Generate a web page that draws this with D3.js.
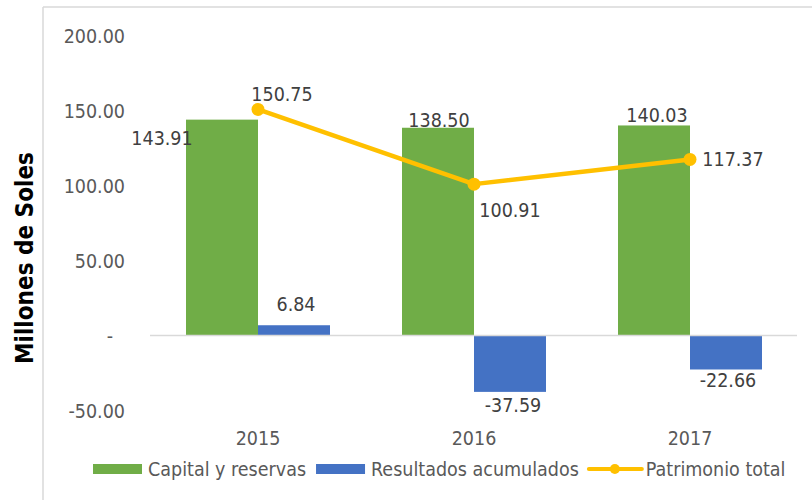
<!DOCTYPE html>
<html>
<head>
<meta charset="utf-8">
<script src="https://cdn.jsdelivr.net/npm/d3@7"></script>
<style>
  body { margin: 0; background: #fff; }
  text { font-family: "DejaVu Sans Condensed", "DejaVu Sans", sans-serif; font-stretch: condensed; }
</style>
</head>
<body>
<script>
// data
var years = ["2015", "2016", "2017"];
var capital = [143.91, 138.50, 140.03];
var resultados = [6.84, -37.59, -22.66];
var patrimonio = [150.75, 100.91, 117.37];
var yTicks = [-50, 0, 50, 100, 150, 200];
var seriesNames = ["Capital y reservas", "Resultados acumulados", "Patrimonio total"];

// label nudges (excel puts them a bit everywhere)
var capNudge = [[-60, 25], [1, -1], [3, -3]];
var resNudge = [[2, -14], [3, 20], [2, 18]];
var patNudge = [[24, -8], [36, 33], [43, 7]];

var green = "#70AD47", blue = "#4472C4", yellow = "#FFC000";

var W = 812, H = 500;

var svg = d3.select("body").append("svg")
    .attr("width", W)
    .attr("height", H);

// chart frame (only top and left show)
svg.append("line")
    .attr("x1", 43).attr("x2", W).attr("y1", 7).attr("y2", 7)
    .style("stroke", "#d9d9d9").style("stroke-width", 1.5);
svg.append("line")
    .attr("x1", 43).attr("x2", 43).attr("y1", 7).attr("y2", H)
    .style("stroke", "#d9d9d9").style("stroke-width", 1.5);

// scales
var x = d3.scaleBand().domain(years).range([150, 798]);
var xs = d3.scaleBand().domain([0, 1]).range([0, x.bandwidth()]).paddingOuter(0.5);
var y = d3.scaleLinear().domain([-50, 200]).range([410.5, 35.5]);

// plain hyphen instead of the unicode minus
var fmt0 = d3.format(",.2f");
function fmt(v) { return fmt0(v).replace("\u2212", "-"); }

// y tick labels
svg.selectAll(".ytick")
    .data(yTicks)
    .enter().append("text")
    .attr("class", "ytick")
    .attr("x", 125)
    .attr("dx", function(d) { return d === 0 ? -12 : 0; })
    .attr("y", function(d) { return y(d); })
    .attr("dy", "0.36em")
    .style("text-anchor", "end")
    .style("font-size", "19.5px")
    .style("fill", "#595959")
    .text(function(d) { return d === 0 ? "-" : fmt(d); });

// y axis title
svg.append("text")
    .attr("transform", "translate(33,258) rotate(-90)")
    .style("text-anchor", "middle")
    .style("font-size", "24px")
    .style("font-weight", "bold")
    .style("fill", "#000")
    .text("Millones de Soles");

// bars
svg.selectAll(".cap")
    .data(capital)
    .enter().append("rect")
    .attr("class", "cap")
    .attr("x", function(d, i) { return x(years[i]) + xs(0); })
    .attr("width", xs.bandwidth())
    .attr("y", function(d) { return y(Math.max(0, d)); })
    .attr("height", function(d) { return Math.abs(y(d) - y(0)); })
    .style("fill", green);

svg.selectAll(".res")
    .data(resultados)
    .enter().append("rect")
    .attr("class", "res")
    .attr("x", function(d, i) { return x(years[i]) + xs(1); })
    .attr("width", xs.bandwidth())
    .attr("y", function(d) { return y(Math.max(0, d)); })
    .attr("height", function(d) { return Math.abs(y(d) - y(0)); })
    .style("fill", blue);

// zero line
svg.append("line")
    .attr("x1", 150).attr("x2", 797)
    .attr("y1", y(0)).attr("y2", y(0))
    .style("stroke", "#d9d9d9").style("stroke-width", 1.5);

// patrimonio line
var line = d3.line()
    .x(function(d, i) { return x(years[i]) + x.bandwidth() / 2; })
    .y(function(d) { return y(d); });

svg.append("path")
    .datum(patrimonio)
    .attr("d", line)
    .style("fill", "none")
    .style("stroke", yellow)
    .style("stroke-width", 4.5)
    .style("stroke-linejoin", "round");

svg.selectAll(".dot")
    .data(patrimonio)
    .enter().append("circle")
    .attr("class", "dot")
    .attr("cx", function(d, i) { return x(years[i]) + x.bandwidth() / 2; })
    .attr("cy", function(d) { return y(d); })
    .attr("r", 6.5)
    .style("fill", yellow);

// data labels
function addLabels(vals, nudge, cx) {
  svg.selectAll(null)
    .data(vals)
    .enter().append("text")
    .attr("x", function(d, i) { return cx(i) + nudge[i][0]; })
    .attr("y", function(d, i) { return y(d) + nudge[i][1]; })
    .style("text-anchor", "middle")
    .style("font-size", "19.5px")
    .style("fill", "#404040")
    .text(function(d) { return fmt(d); });
}
addLabels(capital, capNudge, function(i) { return x(years[i]) + xs(0) + xs.bandwidth() / 2; });
addLabels(resultados, resNudge, function(i) { return x(years[i]) + xs(1) + xs.bandwidth() / 2; });
addLabels(patrimonio, patNudge, function(i) { return x(years[i]) + x.bandwidth() / 2; });

// category labels
svg.selectAll(".xlab")
    .data(years)
    .enter().append("text")
    .attr("class", "xlab")
    .attr("x", function(d) { return x(d) + x.bandwidth() / 2; })
    .attr("y", 445)
    .style("text-anchor", "middle")
    .style("font-size", "19.5px")
    .style("fill", "#595959")
    .text(function(d) { return d; });

// legend
var lx = 93, ly = 469;
var colors = [green, blue, yellow];
seriesNames.forEach(function(name, i) {
  if (i < 2) {
    svg.append("rect")
      .attr("x", lx).attr("y", ly - 5)
      .attr("width", 49).attr("height", 10)
      .style("fill", colors[i]);
    lx += 55;
  } else {
    svg.append("line")
      .attr("x1", lx).attr("x2", lx + 53)
      .attr("y1", ly).attr("y2", ly)
      .style("stroke", yellow).style("stroke-width", 4)
      .style("stroke-linecap", "round");
    svg.append("circle")
      .attr("cx", lx + 26).attr("cy", ly).attr("r", 5)
      .style("fill", yellow);
    lx += 57;
  }
  var t = svg.append("text")
    .attr("x", lx).attr("y", ly)
    .attr("dy", "0.36em")
    .style("font-size", "19.5px")
    .style("fill", "#595959")
    .text(name);
  lx += t.node().getComputedTextLength() + 10;
});
</script>
</body>
</html>
